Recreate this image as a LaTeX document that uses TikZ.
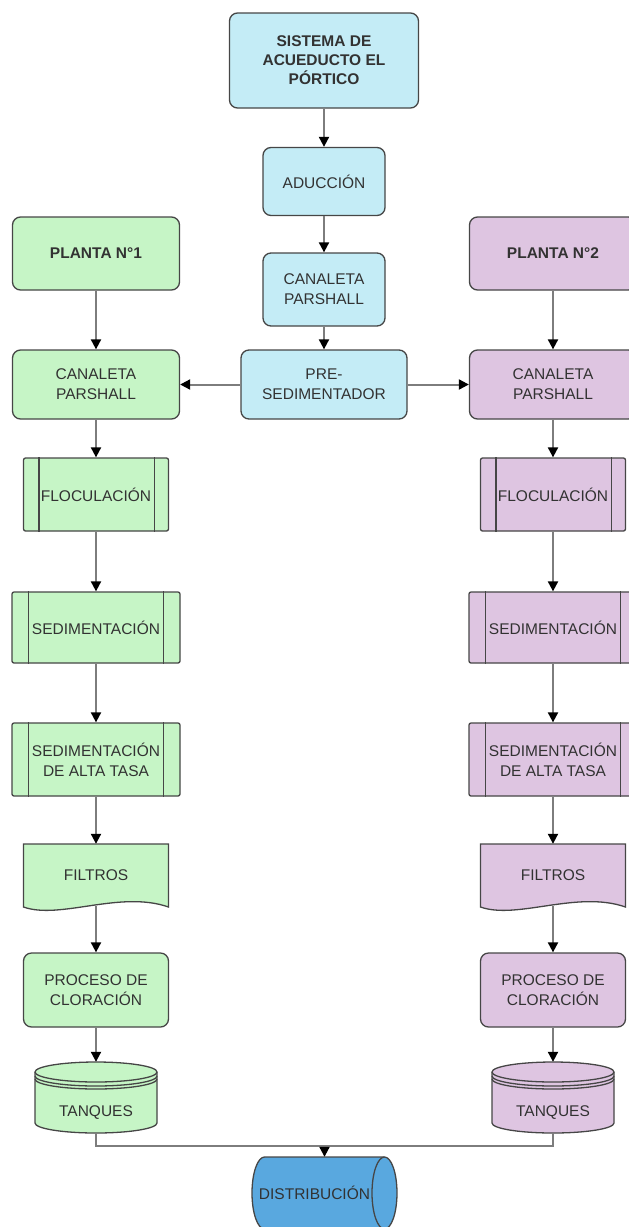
\documentclass[tikz,border=0pt]{standalone}
\usepackage{fontspec}
\setmainfont{Liberation Sans}
\usetikzlibrary{arrows.meta,calc}
\definecolor{cblue}{RGB}{196,236,246}
\definecolor{cgreen}{RGB}{198,245,198}
\definecolor{cpurple}{RGB}{222,197,225}
\definecolor{cdist}{RGB}{89,168,223}
\definecolor{bord}{RGB}{70,70,70}
\definecolor{lgray}{RGB}{125,125,125}
\definecolor{txt}{RGB}{50,50,50}
\begin{document}
\begin{tikzpicture}[x=1pt,y=-1pt,
  fnt/.style={font=\fontsize{15.5}{20}\selectfont},
  bfnt/.style={font=\fontsize{15.5}{19}\selectfont\bfseries},
  box/.style={draw=bord, line width=1.3pt, text=txt, align=center, inner sep=0pt},
  rbox/.style={box, rounded corners=8pt},
  pbox/.style={box, rounded corners=2pt},
  ghost/.style={inner sep=0pt, text=txt, align=center},
  bline/.style={draw=bord, line width=1.3pt},
  arr/.style={draw=lgray, line width=2pt, -{Triangle[length=10pt,width=10pt,color=black]}},
  link/.style={draw=lgray, line width=2pt}
]
\useasboundingbox (0,0) rectangle (629,1227);
\clip (0,0) rectangle (629,1227);

% centre column
\node[rbox, fill=cblue, bfnt, minimum width=189pt, minimum height=95pt] (sis) at (324,60.5) {SISTEMA DE\\ACUEDUCTO EL\\PÓRTICO};
\node[rbox, fill=cblue, fnt, minimum width=122pt, minimum height=68pt] (adu) at (324,181.5) {ADUCCIÓN};
\node[rbox, fill=cblue, fnt, minimum width=122pt, minimum height=73pt] (can) at (324,289.5) {CANALETA\\PARSHALL};
\node[rbox, fill=cblue, fnt, minimum width=166pt, minimum height=69pt] (pre) at (324,384.5) {PRE-\\SEDIMENTADOR};

\foreach \p/\cx/\fc/\n in {L/96/cgreen/1, R/553/cpurple/2}{
  \node[rbox, fill=\fc, bfnt, minimum width=167pt, minimum height=73pt] (\p pl) at (\cx,253.5) {PLANTA N°\n};
  \node[rbox, fill=\fc, fnt, minimum width=167pt, minimum height=69pt] (\p cl) at (\cx,384.5) {CANALETA\\PARSHALL};
  \node[pbox, fill=\fc, fnt, minimum width=145pt, minimum height=73pt] (\p fl) at (\cx,494.5) {FLOCULACIÓN};
  \draw[bline] ($(\p fl.north west)+(16,0)$) -- ($(\p fl.south west)+(16,0)$);
  \draw[bline] ($(\p fl.north east)+(-15,0)$) -- ($(\p fl.south east)+(-15,0)$);
  \node[pbox, fill=\fc, fnt, minimum width=168pt, minimum height=71pt] (\p se) at (\cx,627.5) {SEDIMENTACIÓN};
  \draw[bline] ($(\p se.north west)+(17,0)$) -- ($(\p se.south west)+(17,0)$);
  \draw[bline] ($(\p se.north east)+(-17,0)$) -- ($(\p se.south east)+(-17,0)$);
  \node[pbox, fill=\fc, fnt, minimum width=168pt, minimum height=73pt] (\p sa) at (\cx,759.5) {SEDIMENTACIÓN\\DE ALTA TASA};
  \draw[bline] ($(\p sa.north west)+(17,0)$) -- ($(\p sa.south west)+(17,0)$);
  \draw[bline] ($(\p sa.north east)+(-17,0)$) -- ($(\p sa.south east)+(-17,0)$);
  % document shape
  \path[fill=\fc, draw=bord, line width=1.3pt] ({\cx-72.5},844) -- ({\cx+72.5},844) -- ({\cx+72.5},907)
     .. controls ({\cx+24},890) and ({\cx-36},920) .. ({\cx-72.5},907) -- cycle;
  \node[ghost, fnt, minimum width=145pt, minimum height=62pt] (\p fi) at (\cx,875) {FILTROS};
  \node[rbox, fill=\fc, fnt, minimum width=145pt, minimum height=74pt] (\p clo) at (\cx,990) {PROCESO DE\\CLORACIÓN};
  % tank
  \path[fill=\fc, draw=bord, line width=1.3pt] ({\cx-61},1072) .. controls ({\cx-61},1066.5) and ({\cx-33.7},1062) .. (\cx,1062)
     .. controls ({\cx+33.7},1062) and ({\cx+61},1066.5) .. ({\cx+61},1072) -- ({\cx+61},1123)
     .. controls ({\cx+61},1128.5) and ({\cx+33.7},1133) .. (\cx,1133)
     .. controls ({\cx-33.7},1133) and ({\cx-61},1128.5) .. ({\cx-61},1123) -- cycle;
  \foreach \cy in {1072,1076,1079}{
    \draw[bline] ({\cx-61},\cy) .. controls ({\cx-61},{\cy+5.5}) and ({\cx-33.7},{\cy+10}) .. (\cx,{\cy+10})
       .. controls ({\cx+33.7},{\cy+10}) and ({\cx+61},{\cy+5.5}) .. ({\cx+61},\cy);
  }
  \node[ghost, minimum width=122pt, minimum height=71pt,
        label={[fnt, text=txt, yshift=-15.5pt]center:TANQUES}] (\p ta) at (\cx,1097.5) {};
  % connectors
  \draw[arr] (\p pl) -- (\p cl);
  \draw[arr] (\p cl) -- (\p fl);
  \draw[arr] (\p fl) -- (\p se);
  \draw[arr] (\p se) -- (\p sa);
  \draw[arr] (\p sa) -- (\p fi);
  \draw[arr] (\p fi) -- (\p clo);
  \draw[arr] (\p clo) -- (\p ta);
}

% distribution cylinder
\path[fill=cdist, draw=bord, line width=1.3pt] (264.5,1157) -- (384.5,1157)
   .. controls (391.4,1157) and (397,1173.1) .. (397,1193)
   .. controls (397,1212.9) and (391.4,1229) .. (384.5,1229) -- (264.5,1229)
   .. controls (257.6,1229) and (252,1212.9) .. (252,1193)
   .. controls (252,1173.1) and (257.6,1157) .. cycle;
\draw[bline] (384.5,1157) .. controls (377.6,1157) and (372,1173.1) .. (372,1193)
   .. controls (372,1212.9) and (377.6,1229) .. (384.5,1229);
\node[ghost, minimum width=145pt, minimum height=72pt,
      label={[fnt, text=txt, xshift=-10pt]center:DISTRIBUCIÓN}] (dist) at (324.5,1193) {};

\coordinate (m) at (324.5,1146);

\draw[arr] (sis) -- (adu);
\draw[arr] (adu) -- (can);
\draw[arr] (can) -- (pre);
\draw[arr] (pre) -- (Lcl);
\draw[arr] (pre) -- (Rcl);
\draw[link] (Lta.south) |- (m);
\draw[link] (Rta.south) |- (m);
\draw[arr] (m) -- (dist.north);
\end{tikzpicture}
\end{document}
